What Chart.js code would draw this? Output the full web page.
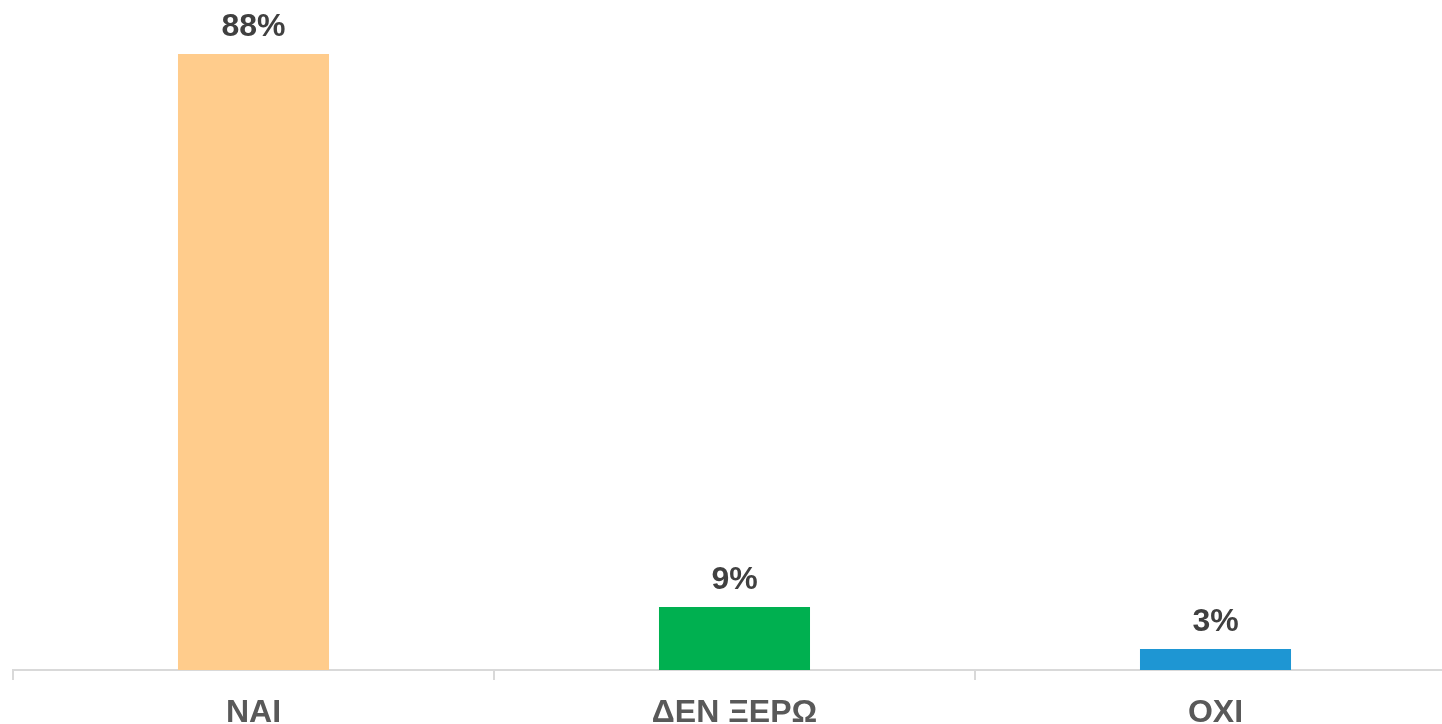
<!DOCTYPE html>
<html>
<head>
<meta charset="utf-8">
<script src="https://cdn.jsdelivr.net/npm/chart.js@4/dist/chart.umd.min.js"></script>
<style>
html,body{margin:0;padding:0;background:#fff;overflow:hidden;}
#wrap{position:relative;width:1456px;height:724px;}
</style>
</head>
<body>
<div id="wrap"><canvas id="c"></canvas></div>
<script>
const categories = ["NAI", "ΔΕΝ ΞΕΡΩ", "OXI"];
const values = [88, 9, 3];
const barColors = ["#FFCC8C", "#00B050", "#1E96D3"];

const valueLabels = {
  id: 'valueLabels',
  afterDatasetsDraw(chart) {
    const ctx = chart.ctx;
    const meta = chart.getDatasetMeta(0);
    ctx.save();
    ctx.font = 'bold 32px "Liberation Sans", Arial, sans-serif';
    ctx.fillStyle = '#404040';
    ctx.textAlign = 'center';
    ctx.textBaseline = 'alphabetic';
    meta.data.forEach((bar, i) => {
      ctx.fillText(values[i] + '%', bar.x, bar.y - 18);
    });
    ctx.restore();
  }
};

new Chart(document.getElementById('c'), {
  type: 'bar',
  data: {
    labels: categories,
    datasets: [{
      data: values,
      backgroundColor: barColors,
      borderWidth: 0,
      barPercentage: 1,
      categoryPercentage: 0.314
    }]
  },
  options: {
    responsive: true,
    maintainAspectRatio: false,
    animation: false,
    layout: { padding: { left: 13, right: 0, top: 0, bottom: 0 } },
    plugins: { legend: { display: false }, tooltip: { enabled: false } },
    scales: {
      x: {
        offset: true,
        grid: { display: true, offset: true, drawOnChartArea: false, tickLength: 10, color: '#d9d9d9', lineWidth: 2 },
        border: { display: true, color: '#d9d9d9', width: 2 },
        ticks: { color: '#595959', font: { family: '"Liberation Sans", Arial, sans-serif', size: 32, weight: 'bold' }, padding: 14, maxRotation: 0, autoSkip: false },
        afterFit(scale) { scale.height = 54; }
      },
      y: {
        display: false,
        min: 0,
        max: 95.7
      }
    }
  },
  plugins: [valueLabels]
});
</script>
</body>
</html>
